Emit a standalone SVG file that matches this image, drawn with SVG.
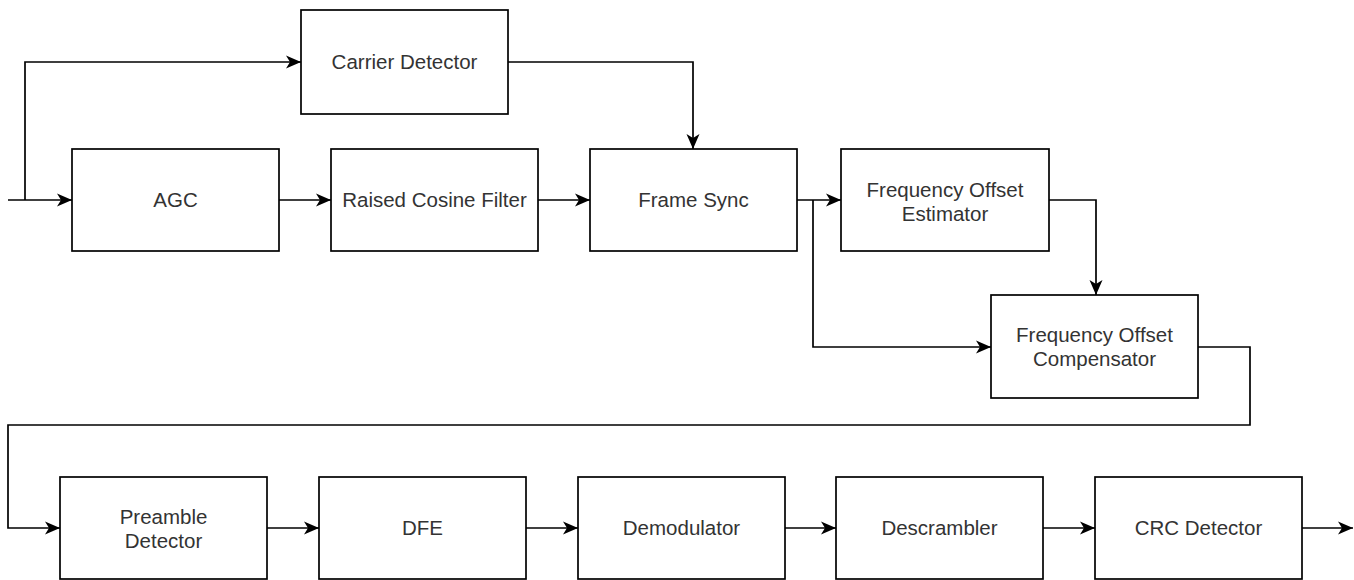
<svg xmlns="http://www.w3.org/2000/svg" width="1354" height="580" viewBox="0 0 1354 580">
<style>
.box{fill:#fff;stroke:#000;stroke-width:1.7}
.lbl{font-family:"Liberation Sans",Arial,sans-serif;font-size:20.5px;fill:#333;text-anchor:middle}
.wire{fill:none;stroke:#000;stroke-width:1.7}
</style>
<defs>
<marker id="arr" markerUnits="userSpaceOnUse" markerWidth="16" markerHeight="14" viewBox="0 -7 16 14" refX="15" refY="0" orient="auto">
<path d="M0,-6.5 L15,0 L0,6.5 L4,0 Z" fill="#000"/>
</marker>
</defs>
<rect width="1354" height="580" fill="#fff"/>
<g id="connectors">
<path class="wire" d="M8,200 H72" marker-end="url(#arr)"/>
<path class="wire" d="M25,200 V62 H301" marker-end="url(#arr)"/>
<path class="wire" d="M279,200 H331" marker-end="url(#arr)"/>
<path class="wire" d="M538,200 H590" marker-end="url(#arr)"/>
<path class="wire" d="M508,62 H693 V149" marker-end="url(#arr)"/>
<path class="wire" d="M797,200 H841" marker-end="url(#arr)"/>
<path class="wire" d="M813,200 V347 H991" marker-end="url(#arr)"/>
<path class="wire" d="M1049,200 H1096 V295" marker-end="url(#arr)"/>
<path class="wire" d="M1198,347 H1250 V425 H8 V528 H60" marker-end="url(#arr)"/>
<path class="wire" d="M267,528 H319" marker-end="url(#arr)"/>
<path class="wire" d="M526,528 H578" marker-end="url(#arr)"/>
<path class="wire" d="M785,528 H836" marker-end="url(#arr)"/>
<path class="wire" d="M1043,528 H1095" marker-end="url(#arr)"/>
<path class="wire" d="M1302,528 H1353" marker-end="url(#arr)"/>
</g>
<g id="carrier-detector"><rect class="box" x="301" y="10" width="207" height="104"/><text class="lbl" x="404.5" y="69">Carrier Detector</text></g>
<g id="agc"><rect class="box" x="72" y="149" width="207" height="102"/><text class="lbl" x="175.5" y="207">AGC</text></g>
<g id="raised-cosine-filter"><rect class="box" x="331" y="149" width="207" height="102"/><text class="lbl" x="434.5" y="207">Raised Cosine Filter</text></g>
<g id="frame-sync"><rect class="box" x="590" y="149" width="207" height="102"/><text class="lbl" x="693.5" y="207">Frame Sync</text></g>
<g id="freq-offset-estimator"><rect class="box" x="841" y="149" width="208" height="102"/><text class="lbl" x="945" y="197">Frequency Offset</text><text class="lbl" x="945" y="221">Estimator</text></g>
<g id="freq-offset-compensator"><rect class="box" x="991" y="295" width="207" height="103"/><text class="lbl" x="1094.5" y="342">Frequency Offset</text><text class="lbl" x="1094.5" y="366">Compensator</text></g>
<g id="preamble-detector"><rect class="box" x="60" y="477" width="207" height="102"/><text class="lbl" x="163.5" y="524">Preamble</text><text class="lbl" x="163.5" y="548">Detector</text></g>
<g id="dfe"><rect class="box" x="319" y="477" width="207" height="102"/><text class="lbl" x="422.5" y="535">DFE</text></g>
<g id="demodulator"><rect class="box" x="578" y="477" width="207" height="102"/><text class="lbl" x="681.5" y="535">Demodulator</text></g>
<g id="descrambler"><rect class="box" x="836" y="477" width="207" height="102"/><text class="lbl" x="939.5" y="535">Descrambler</text></g>
<g id="crc-detector"><rect class="box" x="1095" y="477" width="207" height="102"/><text class="lbl" x="1198.5" y="535">CRC Detector</text></g>
</svg>
